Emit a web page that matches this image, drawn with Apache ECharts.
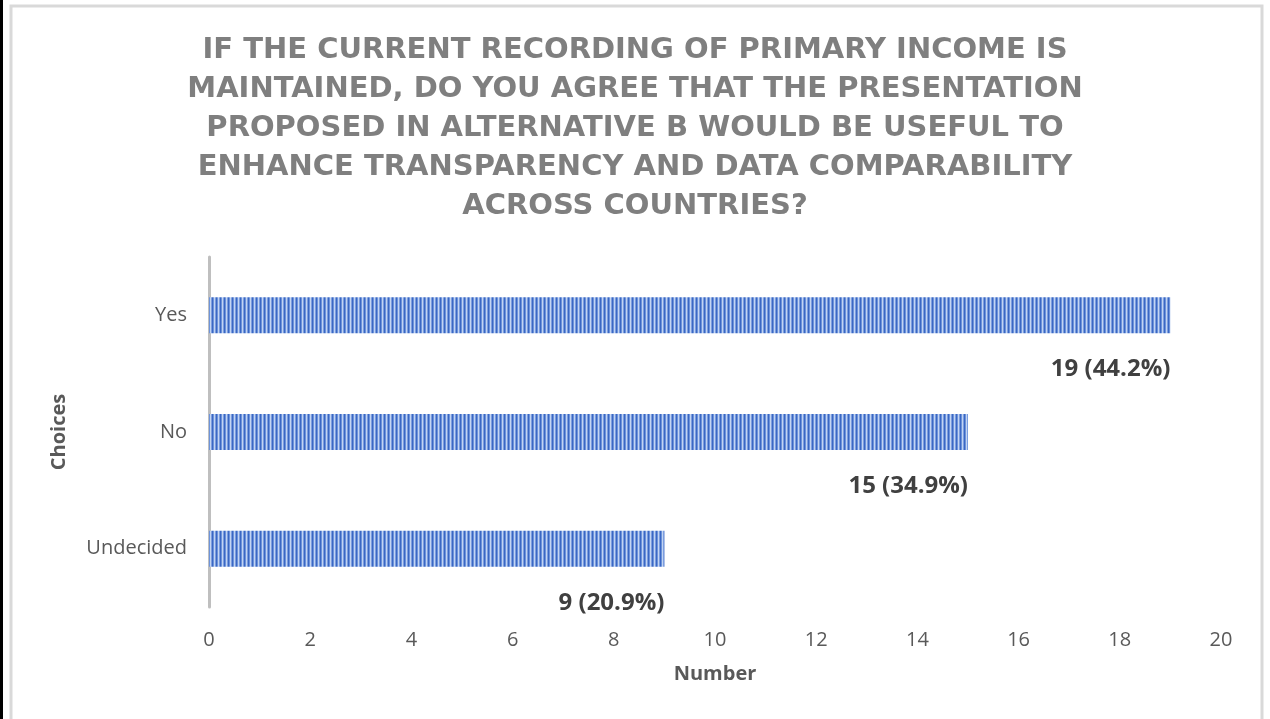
<!DOCTYPE html>
<html>
<head>
<meta charset="utf-8">
<script src="https://cdn.jsdelivr.net/npm/echarts@6/dist/echarts.min.js"></script>
<style>
html, body { margin: 0; padding: 0; background: #fff; }
#main { width: 1270px; height: 719px; }
</style>
</head>
<body>
<div id="main"></div>
<script>
var titleText = 'IF THE CURRENT RECORDING OF PRIMARY INCOME IS\nMAINTAINED, DO YOU AGREE THAT THE PRESENTATION\nPROPOSED IN ALTERNATIVE B WOULD BE USEFUL TO\nENHANCE TRANSPARENCY AND DATA COMPARABILITY\nACROSS COUNTRIES?';
var choices = ['Yes', 'No', 'Undecided'];   // top to bottom
var counts = [19, 15, 9];
var shares = ['44.2%', '34.9%', '20.9%'];
var xTicks = [0, 2, 4, 6, 8, 10, 12, 14, 16, 18, 20];

// striped fill like the original bar texture
function stripes() {
    var c = document.createElement('canvas');
    c.width = 4; c.height = 4;
    var ctx = c.getContext('2d');
    var cols = ['#3a67c3', '#6d93da', '#c2d4f2', '#7b9ddf'];
    for (var i = 0; i < cols.length; i++) {
        ctx.fillStyle = cols[i];
        ctx.fillRect(i, 0, 1, 4);
    }
    return c;
}

var chart = echarts.init(document.getElementById('main'));
var option = {
    backgroundColor: '#fff',
    title: {
        text: titleText,
        left: 'center',
        top: 26,
        textStyle: {
            color: '#7f7f7f',
            fontFamily: 'DejaVu Sans',
            fontWeight: 'bold',
            fontSize: 29,
            lineHeight: 39
        }
    },
    graphic: [{
        type: 'rect',
        shape: { x: 11, y: 6, width: 1251, height: 730 },
        style: { fill: 'none', stroke: '#d9d9d9', lineWidth: 3 },
        silent: true
    }, {
        type: 'rect',
        shape: { x: 0, y: 0, width: 3, height: 719 },
        style: { fill: '#000' },
        silent: true
    }],
    grid: { left: 209, right: 49, top: 257, bottom: 112 },
    xAxis: {
        type: 'value',
        min: xTicks[0],
        max: xTicks[xTicks.length - 1],
        interval: 2,
        name: 'Number',
        nameLocation: 'middle',
        nameGap: 57,
        nameTextStyle: { color: '#595959', fontSize: 20, fontWeight: 'bold', fontFamily: 'Open Sans' },
        axisLine: { show: false },
        axisTick: { show: false },
        splitLine: { show: false },
        axisLabel: { color: '#595959', fontSize: 20, margin: 23, fontFamily: 'Open Sans' }
    },
    yAxis: {
        type: 'category',
        data: choices,
        inverse: true,
        name: 'Choices',
        nameLocation: 'middle',
        nameGap: 140,
        nameTextStyle: { color: '#595959', fontSize: 20, fontWeight: 'bold', fontFamily: 'Open Sans' },
        axisLine: { lineStyle: { color: '#bfbfbf', width: 3 } },
        axisTick: { show: false },
        axisLabel: { color: '#595959', fontSize: 20, margin: 22, fontFamily: 'Open Sans' }
    },
    series: [{
        type: 'bar',
        data: counts,
        barWidth: 36,
        itemStyle: {
            color: { image: stripes(), repeat: 'repeat' }
        },
        label: {
            show: true,
            position: ['100%', '100%'],
            align: 'right',
            verticalAlign: 'top',
            offset: [0, 24],
            color: '#404040',
            fontSize: 24,
            fontWeight: 'bold',
            fontFamily: 'Open Sans',
            formatter: function (p) {
                return p.value + ' (' + shares[p.dataIndex] + ')';
            }
        }
    }]
};
chart.setOption(option);
</script>
</body>
</html>
